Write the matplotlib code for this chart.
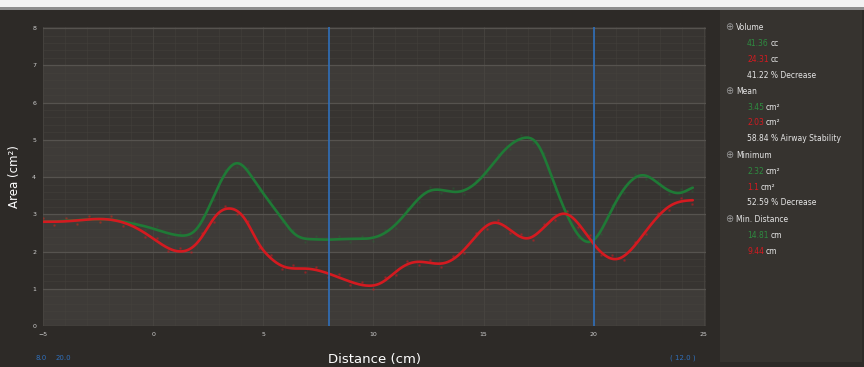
import matplotlib
matplotlib.use("Agg")
import matplotlib.pyplot as plt
import numpy as np
from matplotlib.patches import Rectangle
from matplotlib.ticker import MultipleLocator

# ── Profils d'aire (cm²) le long de la distance (cm) ─────────────────────────
dist_inspi = [-5, -4, -3, -2, -1, -0.2, 1.2, 2.0, 3.0, 3.85, 4.6, 5.9, 6.4, 7.2,
              8.0, 9.0, 10.3, 11.2, 12.5, 13.8, 14.8, 16.0, 16.8, 17.5, 18.1,
              18.7, 20.0, 20.8, 22.3, 23.0, 23.9, 24.5]
area_inspi = [2.80, 2.82, 2.86, 2.86, 2.76, 2.65, 2.43, 2.62, 3.80, 4.38, 3.90,
              2.84, 2.48, 2.33, 2.32, 2.34, 2.43, 2.84, 3.62, 3.60, 3.92, 4.75,
              5.05, 4.85, 4.00, 3.10, 2.30, 3.10, 4.05, 3.80, 3.57, 3.73]

dist_expi = [-5, -4, -3, -2, -1, -0.2, 1.3, 2.1, 2.9, 3.45, 4.2, 4.8, 5.2, 5.9,
             7.0, 8.0, 9.0, 9.8, 10.3, 11.2, 11.9, 13.3, 14.2, 15.5, 17.0, 18.7,
             20.0, 21.1, 22.4, 23.5, 24.5]
area_expi = [2.80, 2.81, 2.86, 2.86, 2.70, 2.43, 2.00, 2.30, 3.00, 3.16, 2.85,
             2.20, 1.90, 1.60, 1.54, 1.40, 1.18, 1.08, 1.14, 1.54, 1.72, 1.70,
             2.10, 2.78, 2.35, 3.02, 2.20, 1.80, 2.57, 3.24, 3.38]

cursors = [8.0, 20.0]
x_ticks = [-5, 0, 5, 10, 15, 20, 25]
y_ticks = [0, 1, 2, 3, 4, 5, 6, 7, 8]

# ── Panneau de statistiques ──────────────────────────────────────────────────
sections = ["Volume", "Mean", "Minimum", "Min. Distance"]
green_vals = ["41.36", "3.45", "2.32", "14.81"]
red_vals = ["24.31", "2.03", "1.1", "9.44"]
units = ["cc", "cm²", "cm²", "cm"]
summaries = ["41.22 % Decrease", "58.84 % Airway Stability", "52.59 % Decrease", None]

BG = "#2d2a27"
PANEL = "#36332f"
GREEN = "#1f7a36"
RED = "#d41a20"
BLUE = "#2f6fba"
TXT = "#e6e6e6"


def smooth(x, y, n=800, win=9):
    """Spline cubique naturelle, puis léger lissage glissant."""
    x = np.asarray(x, float)
    y = np.asarray(y, float)
    k = len(x)
    h = np.diff(x)
    A = np.zeros((k, k))
    b = np.zeros(k)
    A[0, 0] = A[-1, -1] = 1
    for i in range(1, k - 1):
        A[i, i - 1] = h[i - 1]
        A[i, i] = 2 * (h[i - 1] + h[i])
        A[i, i + 1] = h[i]
        b[i] = 6 * ((y[i + 1] - y[i]) / h[i] - (y[i] - y[i - 1]) / h[i - 1])
    M = np.linalg.solve(A, b)
    xs = np.linspace(x[0], x[-1], n)
    j = np.clip(np.searchsorted(x, xs, side="right") - 1, 0, k - 2)
    a = x[j + 1] - xs
    c = xs - x[j]
    ys = (M[j] * a**3 + M[j + 1] * c**3) / (6 * h[j]) \
        + (y[j] / h[j] - M[j] * h[j] / 6) * a \
        + (y[j + 1] / h[j] - M[j + 1] * h[j] / 6) * c
    pad = np.pad(ys, win // 2, mode="edge")
    ys = np.convolve(pad, np.ones(win) / win, mode="valid")
    return xs, ys


fig = plt.figure(figsize=(8.64, 3.67), dpi=100, facecolor=BG)

# bandeau clair en haut + panneau de droite
fig.patches.append(Rectangle((0, 0.980), 1, 0.020, transform=fig.transFigure,
                             facecolor="#f2f2f2", edgecolor="none", zorder=0))
fig.patches.append(Rectangle((0, 0.974), 1, 0.006, transform=fig.transFigure,
                             facecolor="#8c8c8c", edgecolor="none", zorder=0))
fig.patches.append(Rectangle((720 / 864, 5 / 367), 142 / 864, 352 / 367,
                             transform=fig.transFigure, facecolor=PANEL,
                             edgecolor="none", zorder=0))

ax = fig.add_axes([43 / 864, 41 / 367, 663 / 864, 299 / 367])
ax.set_facecolor("#3a3734")
ax.set_xlim(-5, 25.1)
ax.set_ylim(0, 8.03)

# bandes alternées
for k in range(8):
    ax.axhspan(k, k + 1, color="#3e3b38" if k % 2 == 0 else "#373431",
               lw=0, zorder=0)

ax.xaxis.set_major_locator(MultipleLocator(5))
ax.xaxis.set_minor_locator(MultipleLocator(1))
ax.yaxis.set_major_locator(MultipleLocator(1))
ax.yaxis.set_minor_locator(MultipleLocator(0.2))
ax.grid(which="minor", color="#47443f", lw=0.4, alpha=0.7)
ax.grid(which="major", axis="y", color="#56534f", lw=0.9)
ax.grid(which="major", axis="x", color="#4a4743", lw=0.5)
ax.set_axisbelow(True)
ax.set_xticks(x_ticks)
ax.set_yticks(y_ticks)
ax.tick_params(which="both", length=0, colors="#cfcfcf", labelsize=4.5)
ax.tick_params(axis="x", pad=4)
ax.tick_params(axis="y", pad=5)
for s in ax.spines.values():
    s.set_visible(False)

for xc in cursors:
    ax.axvline(xc, color=BLUE, lw=1.2, zorder=5)

# courbes lissées + points de mesure autour
for d, a, col, dot_alpha in [(dist_inspi, area_inspi, GREEN, 0.18),
                             (dist_expi, area_expi, RED, 0.35)]:
    xs, ys = smooth(d, a)
    sel = slice(0, None, 14)
    off = np.where(np.arange(len(xs[sel])) % 2 == 0, 0.09, -0.09)
    ax.plot(xs[sel], ys[sel] + off, ls="none", marker="o", ms=1.0,
            color=col, alpha=dot_alpha, zorder=3)
    ax.plot(xs, ys, color=col, lw=1.9, zorder=4, solid_capstyle="round")

ax.set_ylabel("Area (cm²)", color="white", fontsize=8.5, labelpad=8)
ax.set_xlabel("Distance (cm)", color="white", fontsize=9.5, labelpad=12)

fig.text(36 / 864, 1 - 358 / 367, "8.0", color=BLUE, fontsize=5, va="center")
fig.text(56 / 864, 1 - 358 / 367, "20.0", color=BLUE, fontsize=5, va="center")
fig.text(683 / 864, 1 - 358 / 367, "( 12.0 )", color=BLUE, fontsize=5,
         va="center", ha="center")

# panneau de droite
y = 27
for name, gv, rv, unit, summ in zip(sections, green_vals, red_vals, units, summaries):
    fig.text(729 / 864, 1 - y / 367, "⊕", color="#9a9a9a", fontsize=7,
             va="center", ha="center")
    fig.text(736 / 864, 1 - y / 367, name, color=TXT, fontsize=5.5, va="center")
    y += 16
    for val, col in [(gv, "#2e8b40"), (rv, RED)]:
        t = fig.text(747 / 864, 1 - y / 367, val, color=col, fontsize=5.5, va="center")
        fig.canvas.draw()
        bb = t.get_window_extent()
        fig.text(bb.x1 / 864 + 2 / 864, 1 - y / 367, unit, color=TXT,
                 fontsize=5.5, va="center")
        y += 16
    if summ:
        fig.text(747 / 864, 1 - y / 367, summ, color=TXT, fontsize=5.5, va="center")
        y += 16

fig.savefig("out.png", dpi=100, facecolor=BG)
